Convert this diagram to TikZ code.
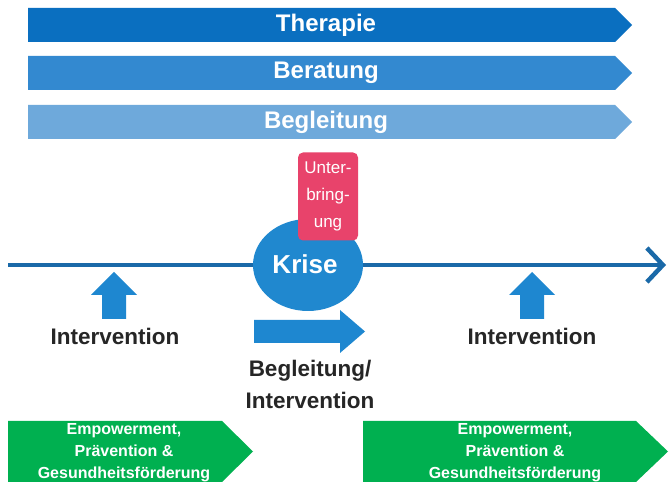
\documentclass[tikz,border=0pt]{standalone}
\usepackage{fontspec}
\setmainfont{Liberation Sans}
\usetikzlibrary{arrows.meta}
\definecolor{cther}{HTML}{0A6FC0}
\definecolor{cber}{HTML}{3389D0}
\definecolor{cbeg}{HTML}{6EA9DB}
\definecolor{cline}{HTML}{1A69A8}
\definecolor{ckrise}{HTML}{2088CF}
\definecolor{cblock}{HTML}{1E87D0}
\definecolor{cpink}{HTML}{E8436B}
\definecolor{cgreen}{HTML}{00B050}
\definecolor{ctext}{HTML}{262626}
\tikzset{
  bartext/.style={text=white,font=\fontsize{24}{24}\selectfont\bfseries,inner sep=0},
  darktext/.style={text=ctext,font=\fontsize{22.5}{32}\selectfont\bfseries,inner sep=0,align=center},
  greentext/.style={text=white,font=\fontsize{16}{22}\selectfont\bfseries,inner sep=0,align=center},
  pinkbox/.style={fill=cpink,rounded corners=5pt,text=white,font=\fontsize{17}{27}\selectfont,align=center,inner sep=0,minimum width=60pt,minimum height=88pt},
  timeline/.style={draw=cline,line width=4.5pt,-{Straight Barb[length=16pt,width=34pt]}},
}
\begin{document}
\begin{tikzpicture}[x=1pt,y=-1pt]
\useasboundingbox (0,0) rectangle (670,486);
\fill[white] (0,0) rectangle (670,486);
% banners
\fill[cther] (28,8) -- (615,8) -- (632,25) -- (615,42) -- (28,42) -- cycle;
\node[bartext] (ther) at (326,25) {Therapie};
\fill[cber] (28,56) -- (615,56) -- (632,73) -- (615,90) -- (28,90) -- cycle;
\node[bartext] (ber) at (326,73) {Beratung};
\fill[cbeg] (28,105) -- (615,105) -- (632,122) -- (615,139) -- (28,139) -- cycle;
\node[bartext] (beg) at (326,122) {Begleitung};
% timeline
\coordinate (tl0) at (8,265);
\coordinate (tl1) at (666,265);
\draw[timeline] (tl0) -- (tl1);
% Krise
\fill[ckrise] (308,265) ellipse [x radius=55, y radius=46];
\node[text=white,font=\fontsize{26}{26}\selectfont\bfseries,inner sep=0] (krise) at (305,264) {Krise};
% Unterbringung
\node[pinkbox] (unter) at (328,196.5) {Unter-\\bring-\\ung};
% up arrows
\fill[cblock] (114,272) -- (137,295) -- (126,295) -- (126,319) -- (102,319) -- (102,295) -- (91,295) -- cycle;
\fill[cblock] (532,272) -- (555,295) -- (544,295) -- (544,319) -- (520,319) -- (520,295) -- (509,295) -- cycle;
\node[darktext,anchor=base] (int1) at (115,345) {Intervention};
\node[darktext,anchor=base] (int2) at (532,345) {Intervention};
% right block arrow
\fill[cblock] (254,320) -- (340,320) -- (340,310) -- (365,331.5) -- (340,353) -- (340,343) -- (254,343) -- cycle;
\node[darktext,anchor=base] (begint) at (310,409) {Begleitung/\\Intervention};
% green banners
\fill[cgreen] (8,421) -- (222,421) -- (253,451.5) -- (222,482) -- (8,482) -- cycle;
\node[greentext] (g1) at (124,453) {Empowerment,\\Prävention \&\\Gesundheitsförderung};
\fill[cgreen] (363,421) -- (636,421) -- (668,451.5) -- (636,482) -- (363,482) -- cycle;
\node[greentext] (g2) at (515,453) {Empowerment,\\Prävention \&\\Gesundheitsförderung};
\end{tikzpicture}
\end{document}
